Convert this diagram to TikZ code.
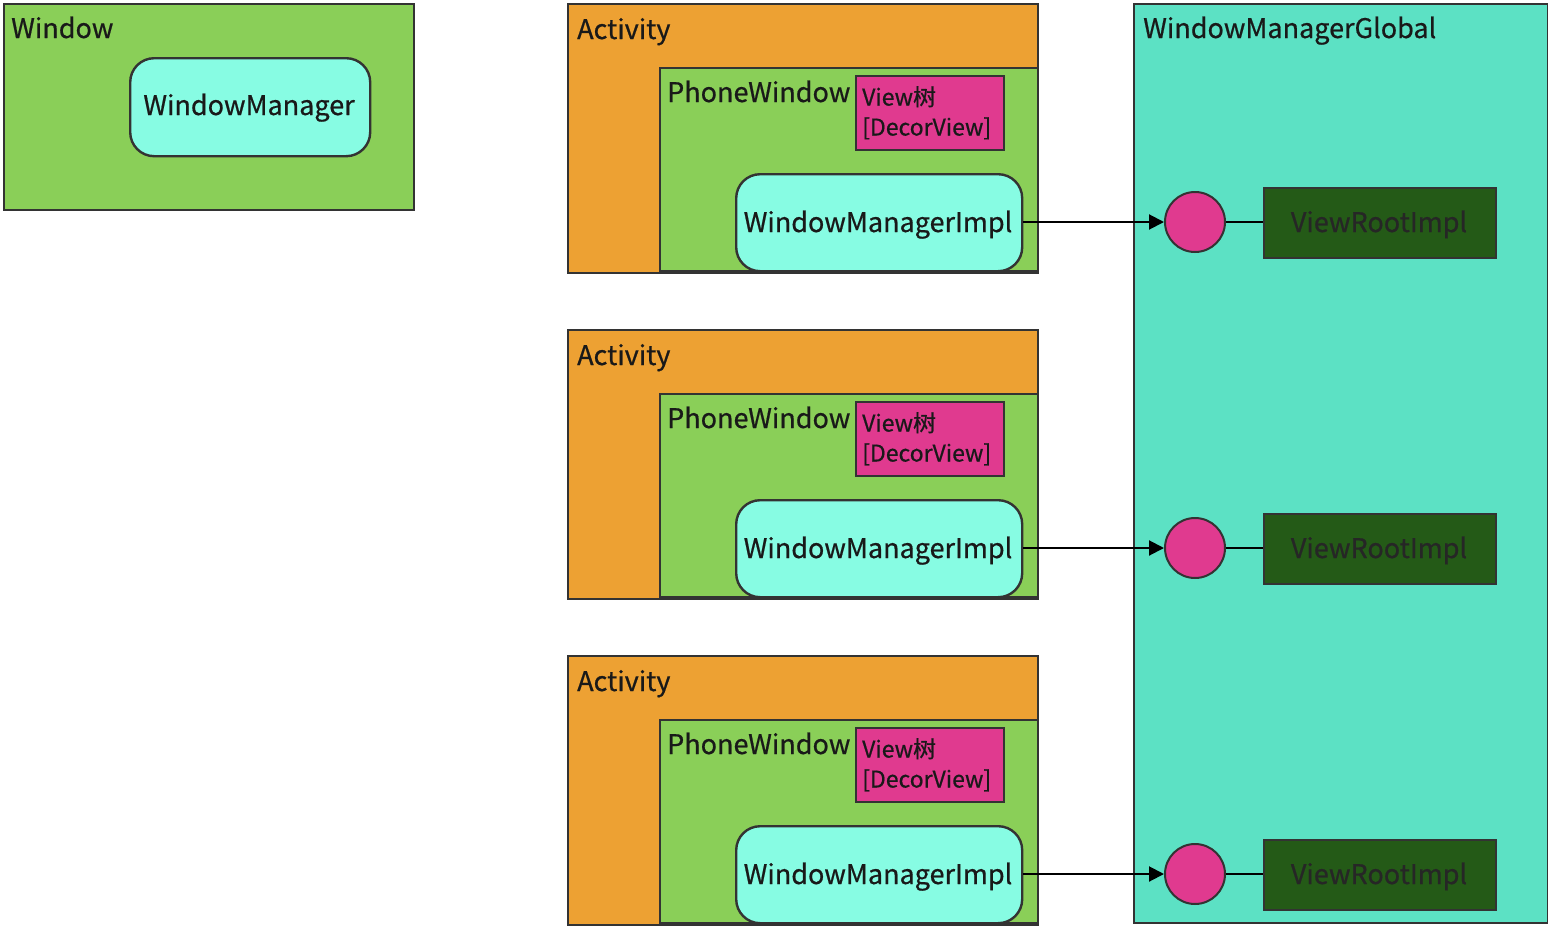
\documentclass[tikz,border=0pt]{standalone}
\usepackage{fontspec}
\setmainfont{Noto Sans CJK SC}[FakeBold=0.6]
\usetikzlibrary{arrows.meta}
\definecolor{winGreen}{HTML}{8ACF58}
\definecolor{actOrange}{HTML}{EDA133}
\definecolor{mgrCyan}{HTML}{87FCE3}
\definecolor{viewPink}{HTML}{E03A8F}
\definecolor{globalTeal}{HTML}{5CE1C4}
\definecolor{rootGreen}{HTML}{245A17}
\definecolor{edge}{HTML}{333333}
\tikzset{
    box/.style={draw=edge, line width=2.4pt, anchor=north west, inner sep=0pt},
    mgr/.style={box, fill=mgrCyan, rounded corners=24pt},
    lbl/.style={anchor=base west, inner sep=0pt, text=black!90, font=\fontsize{27}{30}\selectfont},
    conn/.style={line width=2pt, -{Triangle[length=15pt,width=15pt]}},
}

\begin{document}
\begin{tikzpicture}[x=1pt, y=-1pt]
    \useasboundingbox (0,0) rectangle (1548,926);
    % Window with its WindowManager
    \node[box, fill=winGreen, minimum width=410pt, minimum height=206pt] (win) at (3,3) {};
    \node[lbl] (winlbl) at (11,38) {Window};
    \node[mgr, minimum width=240pt, minimum height=98pt] (wm) at (129,57) {};
    \node[lbl, anchor=base] (wmlbl) at (249,115) {WindowManager};
    % WindowManagerGlobal
    \node[box, fill=globalTeal, minimum width=414pt, minimum height=919pt] (wmg) at (1133,3) {};
    \node[lbl] (wmglbl) at (1143,38) {WindowManagerGlobal};
    % one Activity per row
    \foreach \i/\dy in {1/0, 2/326, 3/652} {
        \node[box, fill=actOrange, minimum width=470pt, minimum height=269pt] (act\i) at (567,3+\dy) {};
        \node[lbl] (actlbl\i) at (577,39+\dy) {Activity};
        \node[box, fill=winGreen, minimum width=378pt, minimum height=203pt] (pw\i) at (659,67+\dy) {};
        \node[lbl] (pwlbl\i) at (667,102+\dy) {PhoneWindow};
        \node[box, fill=viewPink, minimum width=148pt, minimum height=74pt] (view\i) at (855,75+\dy) {};
        \node[lbl, align=left, anchor=north west, font=\fontsize{23}{30}\selectfont] (viewlbl\i) at (862,86+\dy) {View树\\{[DecorView]}};
        \node[mgr, minimum width=286pt, minimum height=97pt] (wmi\i) at (735,173+\dy) {};
        \node[lbl, anchor=base] (wmilbl\i) at (878,232+\dy) {WindowManagerImpl};
        \node[draw=edge, line width=2pt, fill=viewPink, circle, minimum size=60pt, inner sep=0pt] (dot\i) at (1195,222+\dy) {};
        \node[box, fill=rootGreen, minimum width=232pt, minimum height=70pt] (vri\i) at (1263,187+\dy) {};
        \node[lbl, anchor=base, text=black!85] (vrilbl\i) at (1379,232+\dy) {ViewRootImpl};
        \draw[conn] (wmi\i.east |- dot\i.west) -- (dot\i.west);
        \draw[line width=2pt] (dot\i.east) -- (vri\i.west |- dot\i.east);
    }
\end{tikzpicture}
\end{document}
